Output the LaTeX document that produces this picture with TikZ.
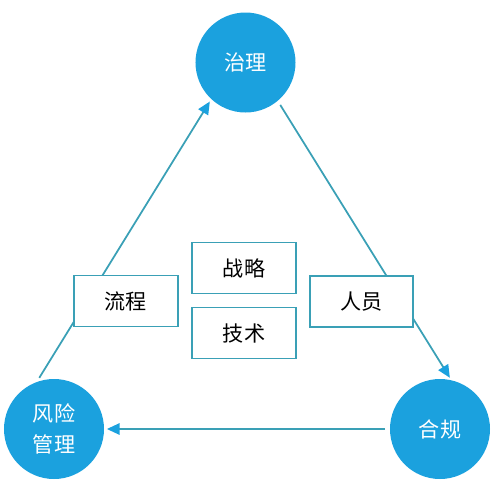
\documentclass[tikz,border=0pt]{standalone}
\usepackage{fontspec}
\setmainfont{Noto Sans CJK SC}
\usetikzlibrary{arrows.meta}
\definecolor{circblue}{RGB}{27,161,222}
\definecolor{linkteal}{RGB}{58,160,182}
\begin{document}
\begin{tikzpicture}[x=0.03cm, y=-0.03cm,
    topic/.style={circle, fill=circblue, text=white, minimum size=3cm, inner sep=0pt,
      align=center, font=\fontsize{18}{26}\selectfont},
    part/.style={draw=linkteal, line width=1.5pt, fill=white, minimum width=3.1cm,
      minimum height=1.53cm, inner sep=0pt, font=\fontsize{18}{22}\selectfont},
    link/.style={linkteal, line width=1.5pt, shorten <=0.14cm, shorten >=0.08cm,
      -{Triangle[length=0.38cm, width=0.34cm, color=circblue]}}]
  \useasboundingbox (0,0) rectangle (493,492);
  \node[topic] (gov) at (245.5,62.5) {治理};
  \node[topic] (comp) at (440,429) {合规};
  \node[topic] (risk) at (54,429) {风险\\管理};
  \draw[link] (risk.110) -- (gov.227);
  \draw[link] (gov.310) -- (comp.77);
  \draw[link] (comp.west) -- (risk.east);
  \node[part] (proc) at (126,301) {流程};
  \node[part] (strat) at (244,268) {战略};
  \node[part] (tech) at (244,333) {技术};
  \node[part] (staff) at (361.5,301.5) {人员};
\end{tikzpicture}
\end{document}
